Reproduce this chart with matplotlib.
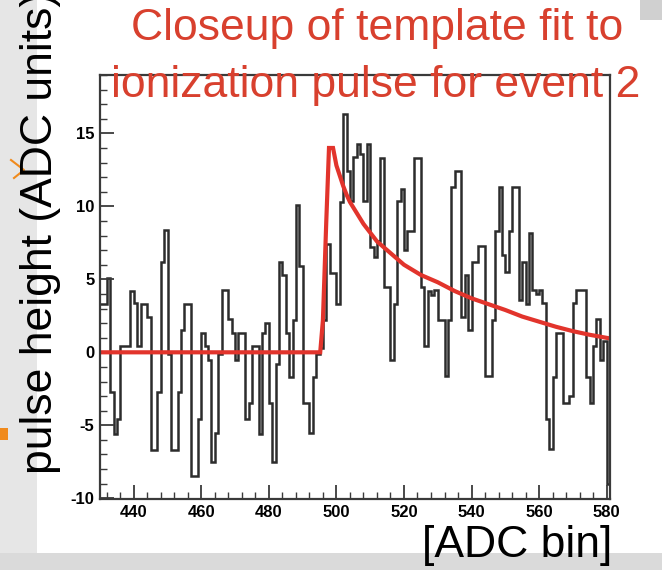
import numpy as np
import matplotlib
matplotlib.use("Agg")
import matplotlib.pyplot as plt
from matplotlib.patches import Rectangle
from matplotlib.ticker import MultipleLocator

# pulse height per ADC bin, bins 430 .. 580
first_bin = 430
pulse = [
    3.3, 3.3, 5.1, -2.7, -5.6, -4.6, 0.4, 0.4, 0.4, 4.2,
    3.4, 0.4, 3.3, 3.3, 2.4, -6.7, -6.7, -2.7, 6.2, 8.4,
    -0.1, -6.7, -6.7, -2.7, 1.5, 3.3, 3.3, -8.5, -8.5, -4.6,
    1.3, 0.4, -0.5, -7.5, -5.5, -0.1, 4.3, 4.3, 2.3, 1.3,
    -0.5, 1.3, 1.3, -4.6, -3.5, 0.4, 0.4, -5.6, 1.3, 2.0,
    -3.5, -7.5, -0.8, 6.2, 5.3, 1.3, -1.7, 2.2, 10.1, 5.9,
    -3.5, -3.5, -5.5, -1.7, -0.1, 0.3, 2.2, 7.4, 5.4, 5.4,
    3.3, 10.3, 16.3, 12.4, 10.4, 13.4, 14.3, 13.6, 10.4, 14.3,
    7.2, 6.5, 7.6, 13.3, 4.5, 4.5, -0.5, 3.3, 10.4, 11.2,
    7.0, 8.3, 8.3, 13.3, 13.3, 4.5, 0.4, 4.2, 3.9, 4.3,
    2.2, 2.2, -1.6, 2.2, 11.3, 12.4, 12.4, 2.4, 5.3, 1.5,
    6.2, 6.2, 7.3, 7.3, -1.6, -1.6, 2.2, 8.3, 11.3, 6.7,
    5.5, 8.3, 11.3, 11.3, 3.6, 6.2, 3.3, 8.2, 4.3, 4.0,
    4.3, 3.4, -4.6, -6.6, -1.7, 1.3, 1.3, -3.5, -3.5, -3.0,
    3.4, 4.3, 4.3, 4.3, -1.7, -3.5, 0.4, 2.3, -0.5, 0.8,
    -9.0,
]

# template fit
fit_x = [430, 495.2, 496.0, 497.0, 497.8, 499.0, 500, 501, 502, 503, 504,
         508, 512, 516, 520, 525, 530, 535, 540, 545, 550, 555, 560, 565,
         570, 575, 581]
fit_y = [0, 0, 2.2, 9.0, 14.0, 14.0, 12.8, 12.1, 11.4, 10.8, 10.3,
         8.8, 7.6, 6.8, 6.0, 5.3, 4.8, 4.2, 3.7, 3.3, 2.9, 2.45, 2.1, 1.75,
         1.45, 1.2, 0.95]

x_ticks = [440, 460, 480, 500, 520, 540, 560, 580]
y_ticks = [-10, -5, 0, 5, 10, 15]

title_lines = ["Closeup of template fit to", "ionization pulse for event 2"]

plt.rcParams["font.family"] = ["Liberation Sans", "DejaVu Sans"]
plt.rcParams["axes.unicode_minus"] = False

W, H = 662, 570
fig = plt.figure(figsize=(W / 100, H / 100), dpi=100)
fig.patch.set_facecolor("white")

# slide background bits around the pasted plot
fig.add_artist(Rectangle((0, 0), 37 / W, 1, transform=fig.transFigure,
                         facecolor="#e6e6e6", edgecolor="none", zorder=0))
fig.add_artist(Rectangle((0, 0), 1, 17 / H, transform=fig.transFigure,
                         facecolor="#dadada", edgecolor="none", zorder=0))
fig.add_artist(Rectangle((640 / W, 1 - 20 / H), 22 / W, 20 / H,
                         transform=fig.transFigure,
                         facecolor="#d0d0d0", edgecolor="none", zorder=0))

ax = fig.add_axes([100 / W, 1 - 499 / H, 510 / W, 424 / H])
ax.set_zorder(1)

edges = np.arange(first_bin, first_bin + len(pulse) + 1)
ax.stairs(pulse, edges, baseline=None, color="#2c2c2c", lw=1.8)
ax.plot(fit_x, fit_y, color="#e2342c", lw=3.0, solid_joinstyle="miter")

ax.set_xlim(430, 581)
ax.set_ylim(-10.05, 19.0)
ax.set_xticks(x_ticks)
ax.set_yticks(y_ticks)
ax.xaxis.set_minor_locator(MultipleLocator(4))
ax.yaxis.set_minor_locator(MultipleLocator(1))
ax.tick_params(which="both", direction="in", top=False, right=False,
               colors="#3a3a3a", labelcolor="black")
ax.tick_params(which="major", length=10, width=1.3, labelsize=12, pad=4)
ax.tick_params(which="minor", length=5, width=1.0)
for lab in ax.get_xticklabels() + ax.get_yticklabels():
    lab.set_fontweight("bold")
for sp in ax.spines.values():
    sp.set_color("#3a3a3a")
    sp.set_linewidth(1.6)

red = "#d8402e"
fig.text(377 / W, 1 - 40 / H, title_lines[0], color=red, fontsize=32,
         ha="center", va="baseline", zorder=3)
fig.text(376 / W, 1 - 97 / H, title_lines[1], color=red, fontsize=32,
         ha="center", va="baseline", zorder=3)

fig.text(41 / W, 1 - 474 / H, "pulse height (ADC units)", fontsize=32,
         rotation=90, ha="center", va="bottom", color="black", zorder=3)
fig.text(612 / W, 1 - 557 / H, "[ADC bin]", fontsize=32,
         ha="right", va="baseline", color="black", zorder=3)

# small orange marks from the slide
fig.add_artist(plt.Line2D([11 / W, 24 / W, 14 / W],
                          [1 - 160 / H, 1 - 170 / H, 1 - 178 / H],
                          transform=fig.transFigure, color="#f08a1c", lw=1.5))
fig.add_artist(Rectangle((0, 1 - 440 / H), 8 / W, 12 / H,
                         transform=fig.transFigure, facecolor="#f08a1c",
                         edgecolor="none", zorder=2))

fig.savefig("out.png", dpi=100)
